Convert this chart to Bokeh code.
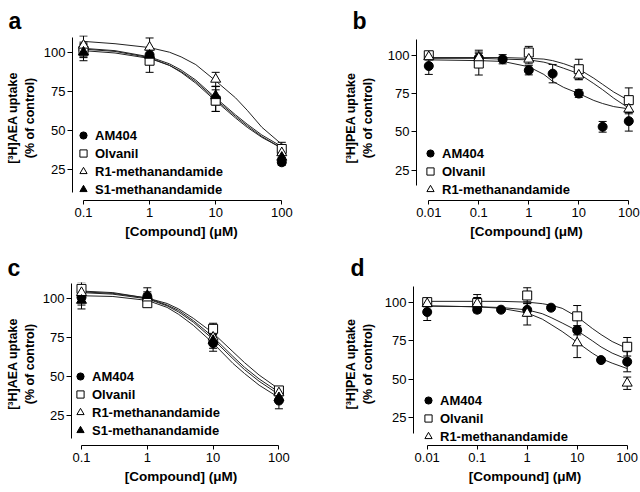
from bokeh.plotting import figure
from bokeh.models import (Range1d, FixedTicker, Whisker, TeeHead, ColumnDataSource,
                          Legend, LegendItem)
from bokeh.layouts import column, row
from bokeh.embed import file_html
from bokeh.resources import INLINE

FONT = "Liberation Sans"

# ---------------- data ----------------
series_names = ["AM404", "Olvanil", "R1-methanandamide", "S1-methanandamide"]

ylabel_aea = "[\u00b3H]AEA uptake\n(% of control)"
ylabel_pea = "[\u00b3H]PEA uptake\n(% of control)"
xlabel = "[Compound] (\u03bcM)"

xticks_ac = [0.1, 1, 10, 100]
xtick_labels_ac = ["0.1", "1", "10", "100"]
xticks_bd = [0.01, 0.1, 1, 10, 100]
xtick_labels_bd = ["0.01", "0.1", "1", "10", "100"]
yticks = [25, 50, 75, 100]

# panel a: [3H]AEA uptake
a_x = [0.1, 1, 10, 100]
a_am404 = [102, 98.7, 70.3, 29.4]
a_am404_err = [5, 4, 8, 2]
a_olvanil = [101.5, 95, 69.2, 38]
a_olvanil_err = [4, 7.5, 7, 4.3]
a_r1 = [105, 103.7, 83, 35.5]
a_r1_err = [6, 6, 4.5, 3]
a_s1 = [100.5, 98.5, 72.4, 32.6]
a_s1_err = [5.5, 3, 6, 3]
a_curve_x = [0.1, 0.3, 1, 2, 3, 5, 10, 20, 30, 50, 100]
a_curve_am404 = [103, 101.5, 97.5, 93, 89, 82.5, 71, 60, 54, 47, 39.5]
a_curve_olvanil = [101.5, 100, 96.5, 92, 88, 81.5, 70, 59, 53, 46, 38.5]
a_curve_r1 = [107.5, 106, 103.5, 100.5, 97.5, 92.5, 82, 71, 63, 52, 41]
a_curve_s1 = [102.5, 101, 97, 92, 87.5, 80.5, 69, 58, 52, 45.5, 38.5]

# panel b: [3H]PEA uptake
b_am404_x = [0.01, 0.1, 0.3, 1, 3, 10, 30, 100]
b_am404 = [93, 98.3, 97.4, 90.2, 88, 75, 53.3, 57]
b_am404_err = [5.5, 3, 3, 3, 6, 2.5, 3.5, 6.5]
b_x = [0.01, 0.1, 1, 10, 100]
b_olvanil = [100, 94.6, 101.8, 90.9, 70.7]
b_olvanil_err = [2, 7.5, 4, 6.5, 8]
b_r1 = [99, 98.3, 97.4, 87, 64.8]
b_r1_err = [2, 5, 3, 3, 3]
b_curve_x = [0.01, 0.1, 0.3, 1, 2, 3, 5, 10, 20, 30, 50, 100]
b_curve_am404 = [97, 96.5, 96, 92.5, 87.5, 83, 79, 75, 70.5, 68.5, 66.5, 65]
b_curve_olvanil = [98.5, 98.5, 98.5, 98, 97.5, 96.5, 94.5, 91, 85, 81, 76, 70.5]
b_curve_r1 = [98, 98, 97.5, 97, 95.5, 94, 91.5, 88, 81.5, 77.5, 72, 65.5]

# panel c: [3H]AEA uptake
c_x = [0.1, 1, 10, 100]
c_am404 = [101, 101.5, 71.5, 34.6]
c_am404_err = [5, 3, 5.2, 5.3]
c_olvanil = [106.4, 97.2, 80.7, 41.1]
c_olvanil_err = [4.5, 2, 3.6, 2]
c_r1 = [104, 100.5, 75.3, 39.5]
c_r1_err = [4, 3, 4, 2]
c_s1 = [99, 102.1, 73.2, 36.4]
c_s1_err = [5.5, 5, 5, 3]
c_curve_x = [0.1, 0.3, 1, 2, 3, 5, 10, 20, 30, 50, 100]
c_curve_am404 = [102, 101.5, 99, 94.5, 90, 83, 71.5, 58.5, 52, 44.5, 36.5]
c_curve_olvanil = [105, 104, 100.5, 97, 93.5, 87.5, 78, 66, 59, 51, 42]
c_curve_r1 = [104.5, 103.5, 100.5, 96, 92.5, 86, 75.5, 63, 56, 48.5, 40]
c_curve_s1 = [104, 103, 100, 95.5, 91.5, 85, 74, 61.5, 54.5, 47, 38.5]

# panel d: [3H]PEA uptake
d_am404_x = [0.01, 0.1, 0.3, 1, 3, 10, 30, 100]
d_am404 = [93.6, 95.1, 95.1, 95, 96.4, 81.8, 62.5, 61.4]
d_am404_err = [5.5, 2, 1, 4, 1.5, 3, 1.5, 6.5]
d_x = [0.01, 0.1, 1, 10, 100]
d_olvanil = [100, 99.4, 104.3, 90.8, 71.1]
d_olvanil_err = [2, 5.5, 5, 7, 6]
d_r1 = [99, 99, 92.7, 73.6, 47.5]
d_r1_err = [2, 4, 7.5, 9.5, 4]
d_curve_x = [0.01, 0.1, 0.3, 1, 2, 3, 5, 10, 20, 30, 50, 100]
d_curve_am404 = [97.5, 97, 96.5, 95, 92.5, 90, 86.5, 81.5, 75, 71, 67, 63]
d_curve_olvanil = [100.5, 100.5, 100.5, 100, 99, 98, 96, 90.5, 83, 79, 74.5, 70]
d_curve_r1 = [97.5, 97, 96, 93, 89, 85.5, 81, 74, 67, 63.5, 60.5, 57]

# ---------------- styles ----------------
STYLE = {
    "AM404": dict(marker="circle", size=9, fill_color="black"),
    "Olvanil": dict(marker="square", size=9, fill_color="white"),
    "R1-methanandamide": dict(marker="triangle", size=10, fill_color="white"),
    "S1-methanandamide": dict(marker="triangle", size=10, fill_color="black"),
}


def make_panel(letter, ylab, pts, curves, curve_x, xticks, xtick_labels, g):
    p = figure(width=g["w"], height=g["h"], x_axis_type="log",
               x_range=Range1d(*g["xr"]), y_range=Range1d(*g["yr"]),
               output_backend="svg", toolbar_location=None,
               min_border_left=g["l"], min_border_right=g["r"],
               min_border_top=g["t"], min_border_bottom=g["b"])
    p.grid.visible = False
    p.outline_line_color = None
    p.background_fill_color = "white"
    p.border_fill_color = "white"

    # panel letter as title
    p.title.text = letter
    p.title.text_font = FONT
    p.title.text_font_size = "23px"
    p.title.text_font_style = "bold"
    p.title.text_color = "black"
    p.title.align = "left"
    p.title.vertical_align = "top"
    p.title.standoff = 0
    p.title.offset = g["toff"]

    # fitted curves
    for name, ys in curves:
        p.line(curve_x, ys, line_color="#222222", line_width=1)

    items = []
    for name, xs, ys, errs in pts:
        src = ColumnDataSource(dict(x=xs, lo=[y - e for y, e in zip(ys, errs)],
                                    hi=[y + e for y, e in zip(ys, errs)]))
        w = Whisker(source=src, base="x", lower="lo", upper="hi",
                    line_color="black", line_width=1, level="underlay",
                    upper_head=TeeHead(size=8, line_color="black", line_width=1),
                    lower_head=TeeHead(size=8, line_color="black", line_width=1))
        p.add_layout(w)
    for name, xs, ys, errs in pts:
        st = STYLE[name]
        r = p.scatter(xs, ys, marker=st["marker"], size=st["size"],
                      fill_color=st["fill_color"], line_color="black", line_width=1)
        items.append(LegendItem(label=name, renderers=[r]))

    leg = Legend(items=items, location=g["leg"], orientation="vertical",
                 background_fill_alpha=0, border_line_color=None,
                 padding=0, margin=0, spacing=0,
                 glyph_width=18, glyph_height=18, label_height=13,
                 label_standoff=3,
                 label_text_font=FONT, label_text_font_size="13px",
                 label_text_font_style="bold", label_text_color="black")
    p.add_layout(leg)

    # x axis
    xa = p.xaxis[0]
    xa.ticker = FixedTicker(ticks=xticks, minor_ticks=[])
    xa.major_label_overrides = dict(zip(xticks, xtick_labels))
    xa.bounds = (xticks[0], xticks[-1])
    xa.axis_label = xlabel
    # y axis
    ya = p.yaxis[0]
    ya.ticker = FixedTicker(ticks=yticks, minor_ticks=[])
    ya.bounds = g["yb"]
    ya.axis_label = ylab
    ya.axis_label_standoff = g["ls"]
    xa.axis_label_standoff = 4
    xa.major_label_standoff = 3
    ya.major_label_standoff = 2
    xa.major_tick_out = 4
    ya.major_tick_out = 5
    for ax in (xa, ya):
        ax.major_tick_in = 0
        ax.minor_tick_line_color = None
        ax.axis_line_color = "black"
        ax.major_tick_line_color = "black"
        ax.major_label_text_font = FONT
        ax.major_label_text_font_size = "13px"
        ax.major_label_text_color = "black"
        ax.axis_label_text_font = FONT
        ax.axis_label_text_font_style = "bold"
        ax.axis_label_text_color = "black"
    xa.axis_label_text_font_size = "13.5px"
    ya.axis_label_text_font_size = "12.5px"
    return p


pa = make_panel(
    "a", ylabel_aea,
    [("AM404", a_x, a_am404, a_am404_err), ("Olvanil", a_x, a_olvanil, a_olvanil_err),
     ("R1-methanandamide", a_x, a_r1, a_r1_err), ("S1-methanandamide", a_x, a_s1, a_s1_err)],
    [("AM404", a_curve_am404), ("Olvanil", a_curve_olvanil),
     ("R1-methanandamide", a_curve_r1), ("S1-methanandamide", a_curve_s1)],
    a_curve_x, xticks_ac, xtick_labels_ac,
    dict(w=320, h=242, l=72, r=30, t=35, b=42, xr=(0.0682, 135.5), yr=(4.7, 111.3),
         yb=(10, 110), ls=4, toff=-64, leg=(2, 2)))

pb = make_panel(
    "b", ylabel_pea,
    [("AM404", b_am404_x, b_am404, b_am404_err), ("Olvanil", b_x, b_olvanil, b_olvanil_err),
     ("R1-methanandamide", b_x, b_r1, b_r1_err)],
    [("AM404", b_curve_am404), ("Olvanil", b_curve_olvanil),
     ("R1-methanandamide", b_curve_r1)],
    b_curve_x, xticks_bd, xtick_labels_bd,
    dict(w=320, h=242, l=96, r=4, t=35, b=42, xr=(0.00568, 142.6), yr=(5.2, 112.9),
         yb=(15, 110), ls=10, toff=-64, leg=(5, 2)))

pc = make_panel(
    "c", ylabel_aea,
    [("AM404", c_x, c_am404, c_am404_err), ("Olvanil", c_x, c_olvanil, c_olvanil_err),
     ("R1-methanandamide", c_x, c_r1, c_r1_err), ("S1-methanandamide", c_x, c_s1, c_s1_err)],
    [("AM404", c_curve_am404), ("Olvanil", c_curve_olvanil),
     ("R1-methanandamide", c_curve_r1), ("S1-methanandamide", c_curve_s1)],
    c_curve_x, xticks_ac, xtick_labels_ac,
    dict(w=320, h=250, l=71, r=30, t=40, b=47, xr=(0.0705, 150), yr=(5.7, 110.5),
         yb=(10, 110), ls=3, toff=-64, leg=(0, 6)))

pd_ = make_panel(
    "d", ylabel_pea,
    [("AM404", d_am404_x, d_am404, d_am404_err), ("Olvanil", d_x, d_olvanil, d_olvanil_err),
     ("R1-methanandamide", d_x, d_r1, d_r1_err)],
    [("AM404", d_curve_am404), ("Olvanil", d_curve_olvanil),
     ("R1-methanandamide", d_curve_r1)],
    d_curve_x, xticks_bd, xtick_labels_bd,
    dict(w=320, h=250, l=93, r=4, t=40, b=46, xr=(0.00532, 153.5), yr=(7.2, 112.7),
         yb=(15, 110), ls=7, toff=-63, leg=(6, 0)))

layout = column(row(pa, pb), row(pc, pd_))

with open("out.html", "w") as f:
    f.write(file_html(layout, INLINE))
